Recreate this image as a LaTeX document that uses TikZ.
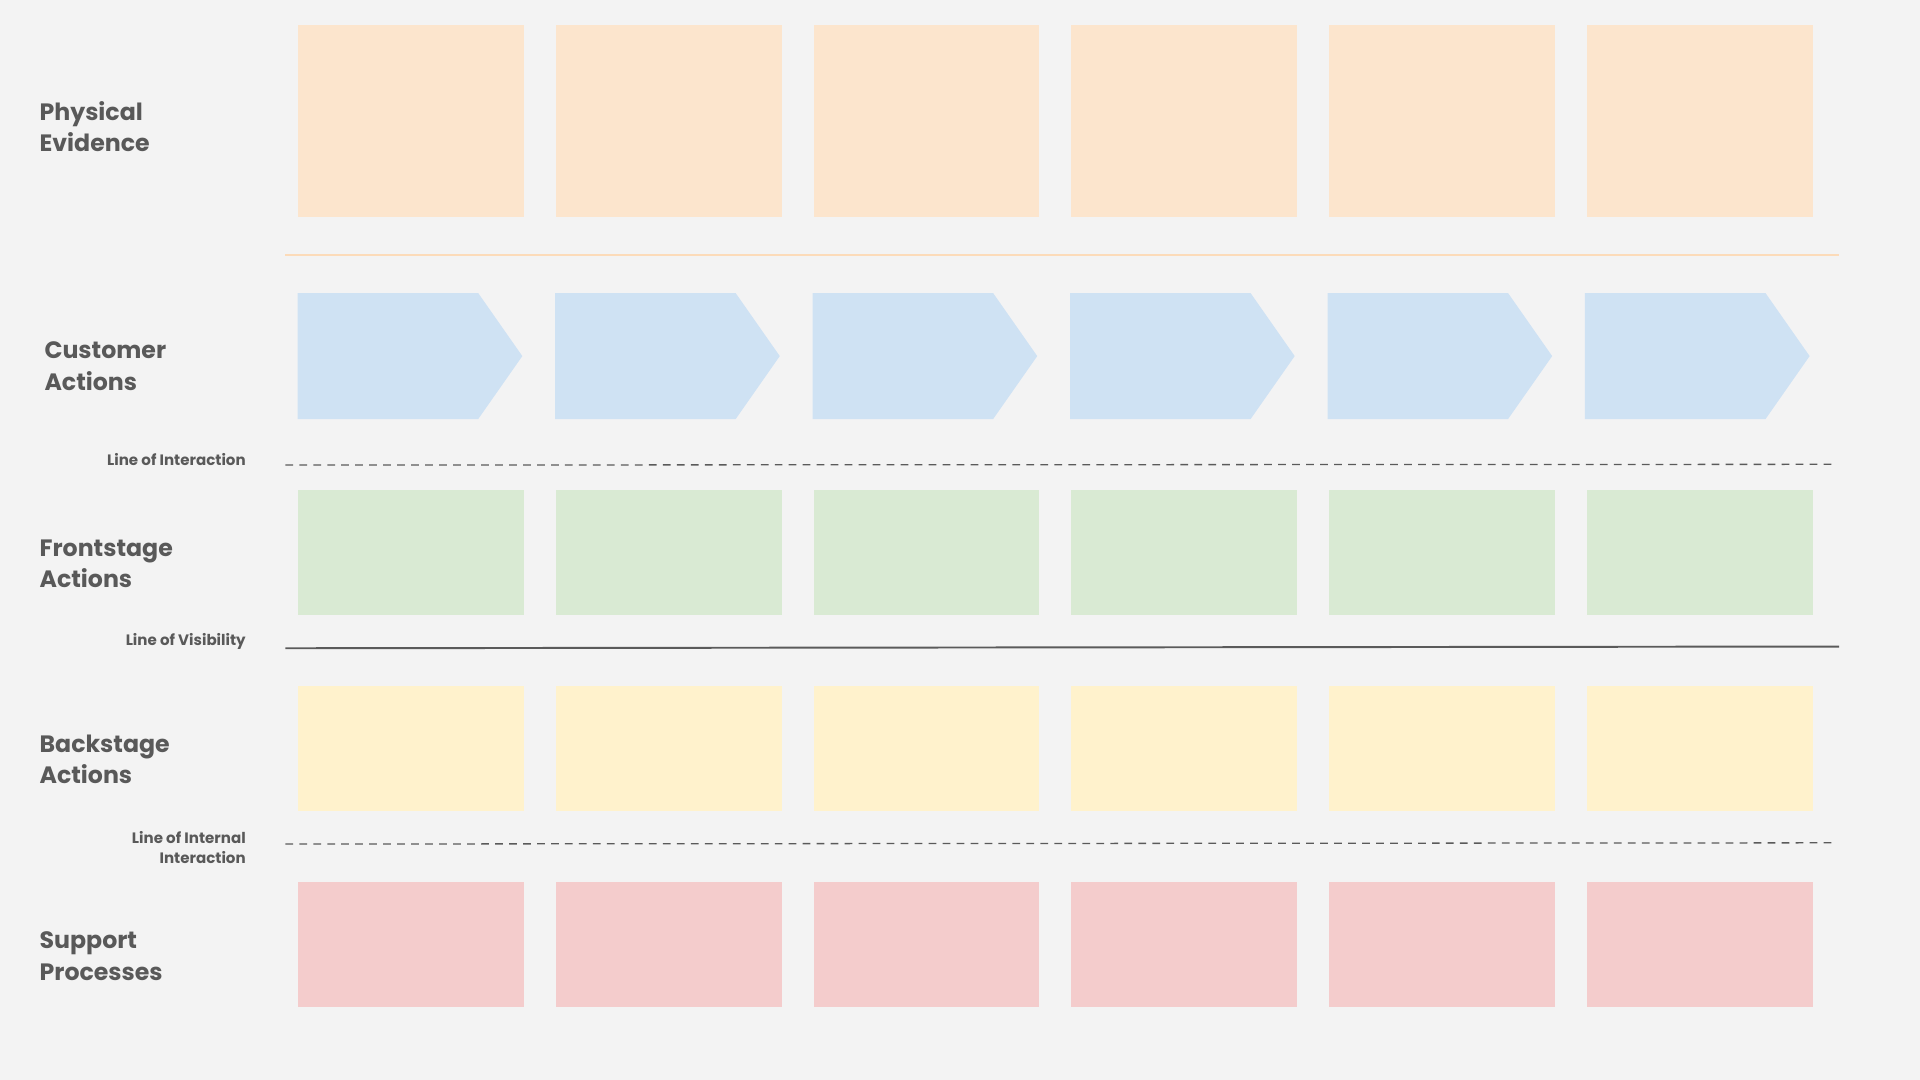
\documentclass[tikz,border=0pt]{standalone}
\usepackage{fontspec}
\setmainfont{Poppins}
\usetikzlibrary{shapes.symbols}

\definecolor{evidence}{HTML}{FCE5CD}
\definecolor{customer}{HTML}{CFE2F3}
\definecolor{front}{HTML}{D9EAD3}
\definecolor{back}{HTML}{FFF2CC}
\definecolor{support}{HTML}{F4CCCC}
\definecolor{paper}{HTML}{F3F3F3}
\definecolor{ink}{HTML}{595959}
\definecolor{rule}{HTML}{5A5A5A}

\begin{document}
\begin{tikzpicture}[x=0.02cm,y=-0.02cm,node distance=4.213cm,
  card/.style={rectangle,inner sep=0pt,minimum width=3.69cm,minimum height=2.04cm},
  stage/.style={signal,signal to=east,signal pointer angle=110,fill=customer,inner sep=0pt,minimum width=3.67cm,minimum height=2.06cm,node distance=4.206cm},
  lane/.style={font=\bfseries\fontsize{11}{14.6}\selectfont,text=ink,align=left,anchor=base west,inner sep=0pt},
  linelabel/.style={font=\bfseries\fontsize{7}{9.3}\selectfont,text=ink,align=right,anchor=base east,inner sep=0pt}]
\fill[paper] (0,0) rectangle (1568,882);
\useasboundingbox (0,0) rectangle (1568,882);

% lane titles (anchored on the second line)
\node[lane] (l_pe) at (32,124) {Physical\\Evidence};
\node[lane] (l_ca) at (36,318.5) {Customer\\Actions};
\node[lane] (l_fa) at (32,480) {Frontstage\\Actions};
\node[lane] (l_ba) at (32,640) {Backstage\\Actions};
\node[lane] (l_sp) at (32,800.4) {Support\\Processes};

% physical evidence
\node[card,fill=evidence,minimum height=3.14cm] (e_1) at (335.4,98.5) {};
\node[card,fill=evidence,minimum height=3.14cm] (e_2) [right of=e_1] {};
\node[card,fill=evidence,minimum height=3.14cm] (e_3) [right of=e_2] {};
\node[card,fill=evidence,minimum height=3.14cm] (e_4) [right of=e_3] {};
\node[card,fill=evidence,minimum height=3.14cm] (e_5) [right of=e_4] {};
\node[card,fill=evidence,minimum height=3.14cm] (e_6) [right of=e_5] {};

\draw[evidence!90!orange,line width=0.8pt] (233,208) -- (1502,208);

% customer actions
\node[stage] (c_1) at (316.8,290.8) {};
\node[stage] (c_2) [right of=c_1] {};
\node[stage] (c_3) [right of=c_2] {};
\node[stage] (c_4) [right of=c_3] {};
\node[stage] (c_5) [right of=c_4] {};
\node[stage] (c_6) [right of=c_5] {};

\node[linelabel] (li_1) at (201,380.5) {Line of Interaction};
\draw[rule,line width=0.6pt,dash pattern=on 3.6pt off 2.9pt] (233,379.8) -- (1498,379.2);

% frontstage actions
\node[card,fill=front] (f_1) at (335.4,451) {};
\node[card,fill=front] (f_2) [right of=f_1] {};
\node[card,fill=front] (f_3) [right of=f_2] {};
\node[card,fill=front] (f_4) [right of=f_3] {};
\node[card,fill=front] (f_5) [right of=f_4] {};
\node[card,fill=front] (f_6) [right of=f_5] {};

\node[linelabel] (li_2) at (201,527) {Line of Visibility};
\draw[rule,line width=0.9pt] (233,529.4) -- (1502,528);

% backstage actions
\node[card,fill=back] (b_1) at (335.4,611) {};
\node[card,fill=back] (b_2) [right of=b_1] {};
\node[card,fill=back] (b_3) [right of=b_2] {};
\node[card,fill=back] (b_4) [right of=b_3] {};
\node[card,fill=back] (b_5) [right of=b_4] {};
\node[card,fill=back] (b_6) [right of=b_5] {};

\node[linelabel] (li_3) at (201,704.9) {Line of Internal\\Interaction};
\draw[rule,line width=0.6pt,dash pattern=on 3.6pt off 2.9pt] (233,689.3) -- (1498,688.3);

% support processes
\node[card,fill=support] (s_1) at (335.4,771) {};
\node[card,fill=support] (s_2) [right of=s_1] {};
\node[card,fill=support] (s_3) [right of=s_2] {};
\node[card,fill=support] (s_4) [right of=s_3] {};
\node[card,fill=support] (s_5) [right of=s_4] {};
\node[card,fill=support] (s_6) [right of=s_5] {};
\end{tikzpicture}
\end{document}
